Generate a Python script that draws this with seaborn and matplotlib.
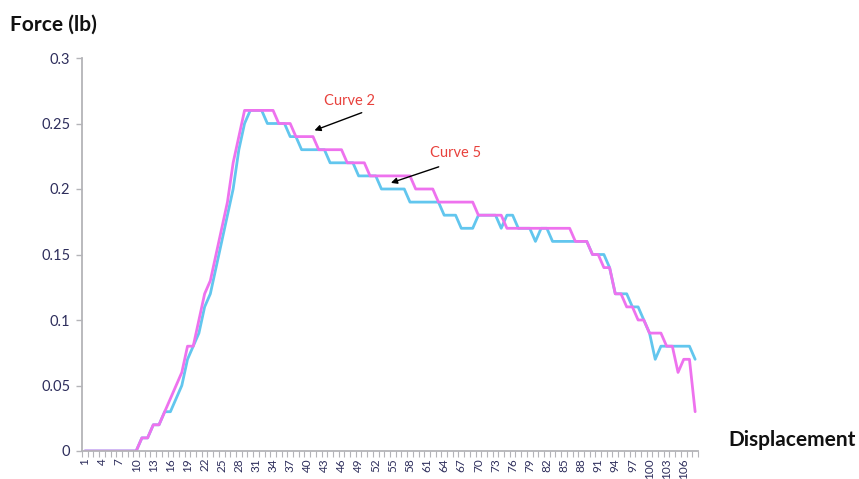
import matplotlib
matplotlib.use('Agg')
import matplotlib.pyplot as plt
import seaborn as sns
import numpy as np
import pandas as pd

# Force readings (lb) per displacement step
displacement = list(range(1, 109))

curve_2 = [0, 0, 0, 0, 0, 0, 0, 0, 0, 0,
           0.01, 0.01, 0.02, 0.02, 0.03, 0.04, 0.05, 0.06, 0.08, 0.08,
           0.10, 0.12, 0.13, 0.15, 0.17, 0.19, 0.22, 0.24, 0.26, 0.26,
           0.26, 0.26, 0.26, 0.26, 0.25, 0.25, 0.25, 0.24, 0.24, 0.24,
           0.24, 0.23, 0.23, 0.23, 0.23, 0.23, 0.22, 0.22, 0.22, 0.22,
           0.21, 0.21, 0.21, 0.21, 0.21, 0.21, 0.21, 0.21, 0.20, 0.20,
           0.20, 0.20, 0.19, 0.19, 0.19, 0.19, 0.19, 0.19, 0.19, 0.18,
           0.18, 0.18, 0.18, 0.18, 0.17, 0.17, 0.17, 0.17, 0.17, 0.17,
           0.17, 0.17, 0.17, 0.17, 0.17, 0.17, 0.16, 0.16, 0.16, 0.15,
           0.15, 0.14, 0.14, 0.12, 0.12, 0.11, 0.11, 0.10, 0.10, 0.09,
           0.09, 0.09, 0.08, 0.08, 0.06, 0.07, 0.07, 0.03]

curve_5 = [0, 0, 0, 0, 0, 0, 0, 0, 0, 0,
           0.01, 0.01, 0.02, 0.02, 0.03, 0.03, 0.04, 0.05, 0.07, 0.08,
           0.09, 0.11, 0.12, 0.14, 0.16, 0.18, 0.20, 0.23, 0.25, 0.26,
           0.26, 0.26, 0.25, 0.25, 0.25, 0.25, 0.24, 0.24, 0.23, 0.23,
           0.23, 0.23, 0.23, 0.22, 0.22, 0.22, 0.22, 0.22, 0.21, 0.21,
           0.21, 0.21, 0.20, 0.20, 0.20, 0.20, 0.20, 0.19, 0.19, 0.19,
           0.19, 0.19, 0.19, 0.18, 0.18, 0.18, 0.17, 0.17, 0.17, 0.18,
           0.18, 0.18, 0.18, 0.17, 0.18, 0.18, 0.17, 0.17, 0.17, 0.16,
           0.17, 0.17, 0.16, 0.16, 0.16, 0.16, 0.16, 0.16, 0.16, 0.15,
           0.15, 0.15, 0.14, 0.12, 0.12, 0.12, 0.11, 0.11, 0.10, 0.09,
           0.07, 0.08, 0.08, 0.08, 0.08, 0.08, 0.08, 0.07]

y_ticks = [0, 0.05, 0.1, 0.15, 0.2, 0.25, 0.3]
y_tick_labels = ['0', '0.05', '0.1', '0.15', '0.2', '0.25', '0.3']
x_ticks = list(range(1, 107, 3))

sns.set_style('ticks')
plt.rcParams['font.family'] = ['Lato', 'DejaVu Sans']

# long-form table for seaborn
df = pd.DataFrame({
    'Displacement': displacement + displacement,
    'Force': curve_5 + curve_2,
    'Curve': ['Curve 5'] * len(curve_5) + ['Curve 2'] * len(curve_2),
})

fig = plt.figure(figsize=(8.59, 4.79), dpi=100)
ax = fig.add_axes([82 / 859, 1 - 451 / 479, (698 - 82) / 859, (451 - 58) / 479])

sns.lineplot(data=df, x='Displacement', y='Force', hue='Curve',
             hue_order=['Curve 5', 'Curve 2'],
             palette={'Curve 5': '#62c6ee', 'Curve 2': '#ee72ee'},
             estimator=None, linewidth=2.0, legend=False, ax=ax)

ax.set_xlim(0.5, 108.5)
ax.set_ylim(0, 0.3)
ax.set_xlabel('')
ax.set_ylabel('')

axis_grey = '#b4b4b8'
label_col = '#2e2e5c'
for side in ['top', 'right']:
    ax.spines[side].set_visible(False)
for side in ['left', 'bottom']:
    ax.spines[side].set_color(axis_grey)
    ax.spines[side].set_linewidth(1.3)

ax.set_yticks(y_ticks)
ax.set_yticklabels(y_tick_labels)
ax.tick_params(axis='y', length=4, width=1, color=axis_grey,
               labelcolor=label_col, labelsize=10.5, pad=4.5)

# category labels every third step, tick marks at every category boundary
ax.set_xticks(x_ticks)
ax.set_xticklabels([str(v) for v in x_ticks], rotation=90)
ax.set_xticks(np.arange(0.5, 109, 1), minor=True)
ax.tick_params(axis='x', which='major', length=0, labelcolor=label_col,
               labelsize=8.5, pad=5)
ax.tick_params(axis='x', which='minor', length=4, width=0.8, color=axis_grey)

# arrows pointing at the two curves
ax.text(47.4, 0.267, 'Curve 2', color='#e8413c', fontsize=10.5,
        ha='center', va='center')
ax.annotate('', xy=(40.8, 0.244), xytext=(50.0, 0.259),
            arrowprops=dict(arrowstyle='-|>', color='black', lw=1,
                            mutation_scale=9))
ax.text(66.0, 0.2275, 'Curve 5', color='#e8413c', fontsize=10.5,
        ha='center', va='center')
ax.annotate('', xy=(54.2, 0.204), xytext=(63.5, 0.2176),
            arrowprops=dict(arrowstyle='-|>', color='black', lw=1,
                            mutation_scale=9))

fig.text(10 / 859, 1 - 25 / 479, 'Force (lb)', fontsize=15,
         fontweight='bold', ha='left', va='center', color='#111111')
fig.text(728 / 859, 1 - 440 / 479, 'Displacement', fontsize=15,
         fontweight='bold', ha='left', va='center', color='#111111')

fig.savefig('out.png', dpi=100)
